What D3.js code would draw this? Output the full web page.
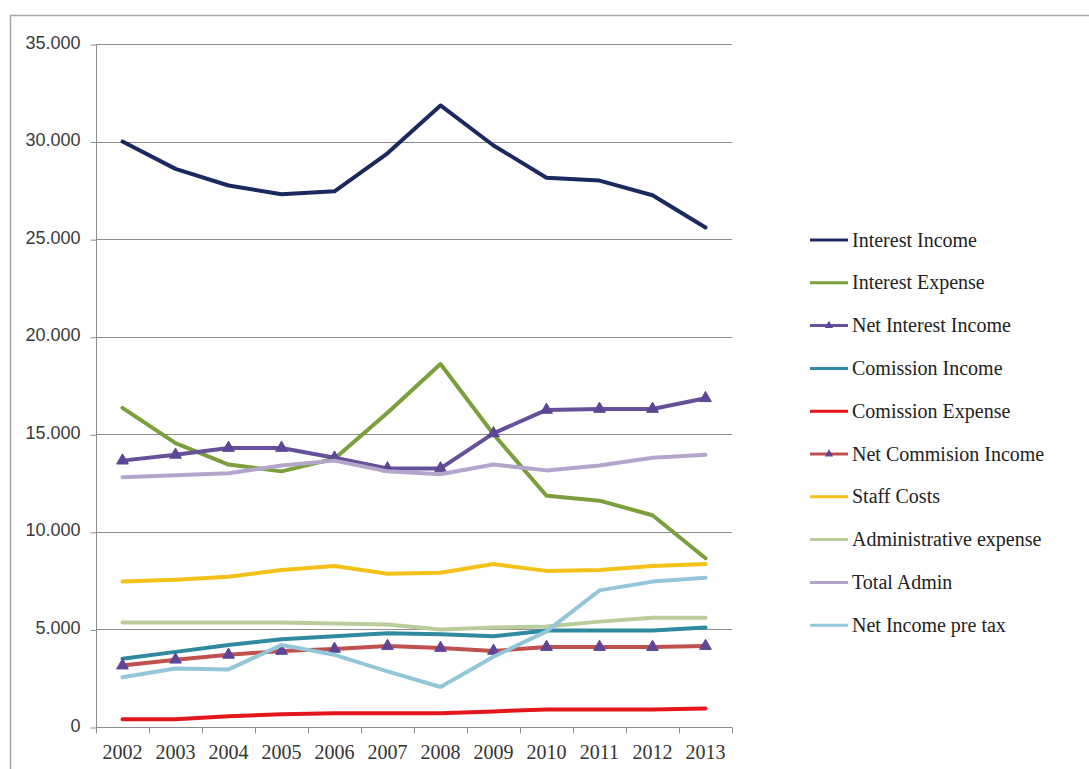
<!DOCTYPE html>
<html>
<head>
<meta charset="utf-8">
<script src="https://cdn.jsdelivr.net/npm/d3@7"></script>
<style>
  html, body { margin: 0; padding: 0; background: #fff; }
  svg { display: block; }
</style>
</head>
<body>
<svg id="chart" width="1089" height="769"></svg>
<script>
// Yearly figures, 2002-2013
const years = ["2002","2003","2004","2005","2006","2007","2008","2009","2010","2011","2012","2013"];

const interestIncome      = [30000, 28600, 27750, 27300, 27450, 29400, 31850, 29800, 28150, 28000, 27250, 25600];
const interestExpense     = [16350, 14550, 13450, 13100, 13750, 16100, 18600, 15000, 11850, 11600, 10850,  8650];
const netInterestIncome   = [13650, 13950, 14300, 14300, 13800, 13250, 13250, 15050, 16250, 16300, 16300, 16850];
const comissionIncome     = [ 3500,  3850,  4200,  4500,  4650,  4800,  4750,  4650,  4950,  4950,  4950,  5100];
const comissionExpense    = [  400,   400,   550,   650,   700,   700,   700,   800,   900,   900,   900,   950];
const netCommisionIncome  = [ 3150,  3450,  3700,  3900,  4000,  4150,  4050,  3900,  4100,  4100,  4100,  4150];
const staffCosts          = [ 7450,  7550,  7700,  8050,  8250,  7850,  7900,  8350,  8000,  8050,  8250,  8350];
const adminExpense        = [ 5350,  5350,  5350,  5350,  5300,  5250,  5000,  5100,  5150,  5400,  5600,  5600];
const totalAdmin          = [12800, 12900, 13000, 13400, 13650, 13100, 12950, 13450, 13150, 13400, 13800, 13950];
const netIncomePreTax     = [ 2550,  3000,  2950,  4200,  3700,  2850,  2050,  3600,  4900,  7000,  7450,  7650];

const yTicks = [0, 5000, 10000, 15000, 20000, 25000, 30000, 35000];

const seriesNames = ["Interest Income", "Interest Expense", "Net Interest Income", "Comission Income",
  "Comission Expense", "Net Commision Income", "Staff Costs", "Administrative expense", "Total Admin", "Net Income pre tax"];
const seriesValues = [interestIncome, interestExpense, netInterestIncome, comissionIncome,
  comissionExpense, netCommisionIncome, staffCosts, adminExpense, totalAdmin, netIncomePreTax];
const seriesColors = ["#1b2a5e", "#7a9f3c", "#67509a", "#2f8aa0",
  "#e4161c", "#c0504d", "#f4c01a", "#b9cc9c", "#b4a6cb", "#94c6d9"];
const seriesMarkers = [null, null, "#5e4595", null, null, "#5e4595", null, null, null, null];

const series = seriesNames.map((name, i) => ({
  name, values: seriesValues[i], color: seriesColors[i], marker: seriesMarkers[i]
}));

const svg = d3.select("#chart");

// Outer chart border
svg.append("path")
  .attr("d", "M10.5,769 V15.5 H1089")
  .attr("fill", "none").attr("stroke", "#a6a6a6").attr("stroke-width", 1.5);

const plot = { left: 96, right: 732, top: 44, bottom: 727 };

const x = d3.scaleBand().domain(years).range([plot.left, plot.right]).paddingInner(0).paddingOuter(0);
const y = d3.scaleLinear().domain([0, 35000]).range([plot.bottom, plot.top]);

const fmt = d3.formatLocale({ decimal: ",", thousands: ".", grouping: [3], currency: ["", ""] }).format(",d");

// Horizontal gridlines
svg.append("g")
  .selectAll("line")
  .data(yTicks.filter(d => d > 0))
  .join("line")
  .attr("x1", plot.left).attr("x2", plot.right)
  .attr("y1", d => Math.round(y(d)) + 0.5).attr("y2", d => Math.round(y(d)) + 0.5)
  .attr("stroke", "#8c8c8c").attr("stroke-width", 1);

// Y axis
const yAxis = svg.append("g")
  .attr("transform", `translate(${plot.left + 0.5},0.5)`)
  .call(d3.axisLeft(y).tickValues(yTicks).tickFormat(fmt).tickSize(6).tickPadding(10));
yAxis.select(".domain").attr("stroke", "#8c8c8c").attr("d", `M-0,${plot.bottom}V${plot.top}`);
yAxis.selectAll(".tick line").attr("stroke", "#8c8c8c");
yAxis.selectAll(".tick text")
  .attr("font-family", "'Liberation Sans', Arial, sans-serif")
  .attr("font-size", 18).attr("fill", "#3a3a3a").attr("dy", "0.2em");

// X axis with tick marks on category boundaries
const xAxisG = svg.append("g").attr("transform", `translate(0,${plot.bottom + 0.5})`);
xAxisG.append("line")
  .attr("x1", plot.left).attr("x2", plot.right).attr("y1", 0).attr("y2", 0)
  .attr("stroke", "#8c8c8c");
const boundaries = years.map(d => x(d)).concat([x(years[years.length - 1]) + x.bandwidth()]);
xAxisG.selectAll("line.tk")
  .data(boundaries)
  .join("line").attr("class", "tk")
  .attr("x1", d => Math.round(d) + 0.5).attr("x2", d => Math.round(d) + 0.5)
  .attr("y1", 0).attr("y2", 6)
  .attr("stroke", "#8c8c8c");
xAxisG.selectAll("text")
  .data(years)
  .join("text")
  .attr("x", d => x(d) + x.bandwidth() / 2)
  .attr("y", 31)
  .attr("text-anchor", "middle")
  .attr("font-family", "'Liberation Serif', 'Times New Roman', serif")
  .attr("font-size", 20).attr("fill", "#333")
  .text(d => d);

// Series lines
const line = d3.line()
  .x((d, i) => x(years[i]) + x.bandwidth() / 2)
  .y(d => y(d));

const triangle = d3.symbol().type(d3.symbolTriangle).size(60);

const seriesG = svg.append("g");
series.forEach(s => {
  const g = seriesG.append("g");
  g.append("path")
    .attr("d", line(s.values))
    .attr("fill", "none")
    .attr("stroke", s.color)
    .attr("stroke-width", 4)
    .attr("stroke-linejoin", "round")
    .attr("stroke-linecap", "round");
  if (s.marker) {
    g.selectAll("path.mk")
      .data(s.values)
      .join("path").attr("class", "mk")
      .attr("d", triangle)
      .attr("transform", (d, i) => `translate(${x(years[i]) + x.bandwidth() / 2},${y(d)})`)
      .attr("fill", s.marker)
      .attr("stroke", s.marker).attr("stroke-width", 1);
  }
});

// Legend
const legend = svg.append("g").attr("transform", "translate(810,240)");
const rowH = 42.8;
series.forEach((s, i) => {
  const row = legend.append("g").attr("transform", `translate(0,${i * rowH})`);
  row.append("line")
    .attr("x1", 0).attr("x2", 38).attr("y1", 0).attr("y2", 0)
    .attr("stroke", s.color).attr("stroke-width", 3);
  if (s.marker) {
    row.append("path")
      .attr("d", d3.symbol().type(d3.symbolTriangle).size(30))
      .attr("transform", "translate(19,0)")
      .attr("fill", s.marker);
  }
  row.append("text")
    .attr("x", 42).attr("y", 0).attr("dy", "0.33em")
    .attr("font-family", "'Liberation Serif', 'Times New Roman', serif")
    .attr("font-size", 20).attr("fill", "#222")
    .text(s.name);
});
</script>
</body>
</html>
